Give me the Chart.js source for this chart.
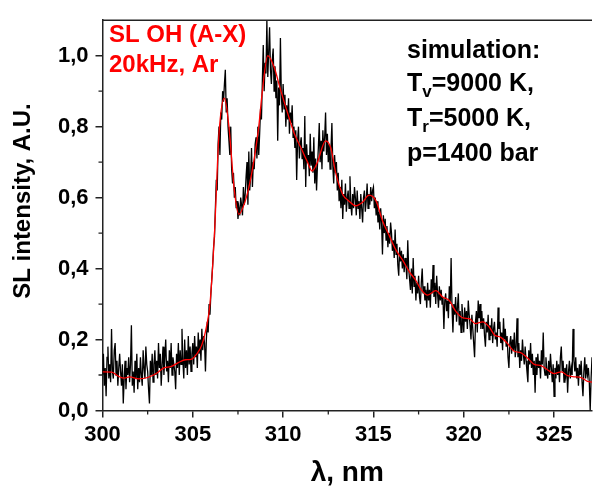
<!DOCTYPE html>
<html>
<head>
<meta charset="utf-8">
<script src="https://cdn.jsdelivr.net/npm/chart.js@4.4.1/dist/chart.umd.min.js"></script>
<style>
  html, body { margin: 0; padding: 0; background: #fff; }
</style>
</head>
<body>
<canvas id="myChart" width="594" height="495"></canvas>
<script>
// measured SL spectrum, one value every 0.05 nm from 300.0 nm (one row per nm)
const measStart = 300.0;
const measStep = 0.05;
const measured = [
    0.10, 0.16, 0.07, 0.12, 0.04, 0.15, 0.18, 0.09, 0.13, 0.08, 0.23, 0.11, 0.09, 0.17, 0.19, 0.10, 0.14, 0.07, 0.12, 0.16, // 300
    0.11, 0.07, 0.13, 0.02, 0.09, 0.14, 0.06, 0.12, 0.10, 0.15, 0.08, 0.13, 0.24, 0.07, 0.11, 0.05, 0.14, 0.09, 0.16, 0.06, // 301
    0.12, 0.08, 0.15, 0.10, 0.07, 0.17, 0.12, 0.09, 0.18, 0.13, 0.11, 0.06, 0.02, 0.14, 0.10, 0.16, 0.08, 0.13, 0.17, 0.10, // 302
    0.14, 0.09, 0.19, 0.12, 0.16, 0.07, 0.13, 0.18, 0.10, 0.15, 0.20, 0.11, 0.14, 0.08, 0.17, 0.12, 0.19, 0.10, 0.15, 0.13, // 303
    0.11, 0.06, 0.16, 0.12, 0.19, 0.10, 0.17, 0.13, 0.23, 0.14, 0.09, 0.20, 0.12, 0.17, 0.10, 0.21, 0.13, 0.18, 0.11, 0.16, // 304
    0.19, 0.13, 0.21, 0.15, 0.18, 0.12, 0.22, 0.16, 0.20, 0.14, 0.23, 0.17, 0.21, 0.19, 0.11, 0.20, 0.25, 0.22, 0.30, 0.27, // 305
    0.33, 0.37, 0.41, 0.46, 0.49, 0.57, 0.65, 0.62, 0.75, 0.80, 0.72, 0.84, 0.82, 0.90, 0.87, 0.92, 0.96, 0.84, 0.88, 0.80, // 306
    0.76, 0.72, 0.80, 0.68, 0.64, 0.67, 0.60, 0.63, 0.57, 0.59, 0.54, 0.57, 0.55, 0.60, 0.58, 0.55, 0.63, 0.58, 0.61, 0.66, // 307
    0.70, 0.58, 0.73, 0.62, 0.66, 0.74, 0.63, 0.70, 0.68, 0.75, 0.77, 0.71, 0.80, 0.72, 0.78, 0.85, 0.82, 0.93, 1.03, 0.90, // 308
    0.98, 0.95, 1.10, 0.94, 1.01, 1.08, 0.96, 0.92, 0.99, 1.02, 0.90, 0.97, 0.88, 0.93, 0.76, 0.91, 0.86, 1.05, 0.89, 0.84, // 309
    0.92, 0.85, 0.89, 0.80, 0.86, 0.82, 0.88, 0.78, 0.84, 0.81, 0.86, 0.77, 0.80, 0.74, 0.79, 0.65, 0.76, 0.80, 0.71, 0.75, // 310
    0.77, 0.71, 0.74, 0.68, 0.83, 0.63, 0.75, 0.70, 0.72, 0.66, 0.78, 0.69, 0.73, 0.67, 0.77, 0.64, 0.71, 0.62, 0.69, 0.74, // 311
    0.81, 0.70, 0.76, 0.68, 0.79, 0.73, 0.77, 0.84, 0.72, 0.78, 0.70, 0.75, 0.68, 0.74, 0.81, 0.69, 0.64, 0.72, 0.67, 0.70, // 312
    0.62, 0.67, 0.59, 0.63, 0.57, 0.65, 0.54, 0.61, 0.58, 0.64, 0.56, 0.60, 0.62, 0.57, 0.66, 0.58, 0.55, 0.61, 0.57, 0.63, // 313
    0.60, 0.55, 0.62, 0.57, 0.59, 0.54, 0.61, 0.57, 0.53, 0.60, 0.62, 0.56, 0.59, 0.64, 0.57, 0.61, 0.58, 0.63, 0.59, 0.62, // 314
    0.63, 0.57, 0.60, 0.55, 0.59, 0.53, 0.56, 0.51, 0.57, 0.53, 0.44, 0.55, 0.50, 0.54, 0.48, 0.52, 0.46, 0.50, 0.47, 0.53, // 315
    0.50, 0.45, 0.48, 0.43, 0.51, 0.44, 0.47, 0.41, 0.38, 0.46, 0.42, 0.45, 0.40, 0.44, 0.39, 0.43, 0.41, 0.37, 0.48, 0.40, // 316
    0.37, 0.34, 0.40, 0.33, 0.43, 0.35, 0.38, 0.31, 0.36, 0.33, 0.38, 0.32, 0.30, 0.36, 0.40, 0.33, 0.35, 0.31, 0.34, 0.29, // 317
    0.36, 0.31, 0.34, 0.29, 0.37, 0.33, 0.41, 0.32, 0.36, 0.30, 0.38, 0.33, 0.29, 0.35, 0.31, 0.34, 0.30, 0.32, 0.23, 0.31, // 318
    0.33, 0.28, 0.31, 0.26, 0.35, 0.30, 0.43, 0.29, 0.22, 0.30, 0.27, 0.32, 0.25, 0.29, 0.33, 0.24, 0.28, 0.22, 0.30, 0.26, // 319
    0.22, 0.29, 0.25, 0.28, 0.23, 0.31, 0.27, 0.24, 0.20, 0.27, 0.23, 0.19, 0.15, 0.25, 0.28, 0.22, 0.31, 0.26, 0.30, 0.23, // 320
    0.28, 0.23, 0.26, 0.21, 0.18, 0.25, 0.22, 0.27, 0.20, 0.24, 0.21, 0.26, 0.19, 0.23, 0.25, 0.20, 0.22, 0.18, 0.29, 0.23, // 321
    0.25, 0.19, 0.22, 0.17, 0.26, 0.20, 0.23, 0.18, 0.21, 0.15, 0.12, 0.19, 0.21, 0.16, 0.20, 0.17, 0.22, 0.15, 0.18, 0.26, // 322
    0.15, 0.19, 0.12, 0.17, 0.14, 0.20, 0.16, 0.13, 0.18, 0.14, 0.11, 0.08, 0.17, 0.13, 0.19, 0.12, 0.16, 0.10, 0.14, 0.05, // 323
    0.15, 0.10, 0.16, 0.12, 0.14, 0.09, 0.17, 0.13, 0.22, 0.12, 0.10, 0.15, 0.11, 0.09, 0.14, 0.10, 0.16, 0.12, 0.08, 0.13, // 324
    0.04, 0.12, 0.09, 0.14, 0.10, 0.13, 0.08, 0.15, 0.18, 0.11, 0.14, 0.08, 0.12, 0.10, 0.13, 0.05, 0.11, 0.14, 0.09, 0.12, // 325
    0.10, 0.23, 0.14, 0.11, 0.15, 0.09, 0.12, 0.07, 0.13, 0.10, 0.14, 0.08, 0.04, 0.11, 0.15, 0.09, 0.13, 0.10, 0.12, 0.08, // 326
    0.00, 0.09, 0.15                                                                                                        // 327
];

// simulated spectrum (red curve)
const simLambda = [
    300.0, 300.5, 300.9, 301.2, 301.5, 302.0, 302.5, 303.0, 303.4, 303.8,
    304.2, 304.6, 304.9, 305.2, 305.5, 305.75, 305.95, 306.2, 306.45, 306.75,
    307.0, 307.3, 307.55, 307.9, 308.15, 308.4, 308.65, 308.85, 309.15, 309.5,
    309.85, 310.25, 310.6, 311.0, 311.35, 311.6, 311.9, 312.35, 312.65, 312.9,
    313.3, 313.65, 314.0, 314.4, 314.75, 315.15, 315.5, 315.9, 316.25, 316.6,
    317.0, 317.3, 317.65, 318.0, 318.45, 318.85, 319.2, 319.55, 319.95, 320.3,
    320.65, 321.05, 321.4, 321.7, 322.05, 322.4, 322.8, 323.15, 323.55, 323.9,
    324.3, 324.65, 325.0, 325.4, 325.75, 326.1, 326.5, 326.85, 327.1
];
const simIntensity = [
    0.109, 0.108, 0.096, 0.091, 0.095, 0.089, 0.093, 0.105, 0.120, 0.124,
    0.135, 0.143, 0.144, 0.158, 0.185, 0.235, 0.30, 0.50, 0.78, 0.88,
    0.80, 0.62, 0.553, 0.59, 0.64, 0.71, 0.80, 0.90, 1.0, 0.968,
    0.905, 0.838, 0.783, 0.739, 0.70, 0.675, 0.70, 0.76, 0.738, 0.672,
    0.609, 0.59, 0.577, 0.587, 0.607, 0.59, 0.535, 0.49, 0.452, 0.425,
    0.39, 0.37, 0.34, 0.325, 0.338, 0.319, 0.31, 0.28, 0.261, 0.259,
    0.245, 0.25, 0.236, 0.213, 0.206, 0.19, 0.167, 0.163, 0.147, 0.13,
    0.126, 0.114, 0.104, 0.109, 0.098, 0.095, 0.093, 0.082, 0.08
];

// minor tick positions
const xMinor = [302.5, 307.5, 312.5, 317.5, 322.5];
const yMinor = [0.1, 0.3, 0.5, 0.7, 0.9];

const measPoints = measured.map((v, i) => ({ x: +(measStart + i * measStep).toFixed(2), y: v }));
const simPoints = simLambda.map((l, i) => ({ x: l, y: simIntensity[i] }));

const axisColor = "#222";
const fam = "'Liberation Sans', Arial, sans-serif";
const tickFont = { family: fam, size: 22, weight: "bold" };

// minor ticks, top frame line, y title and the text blocks
const extras = {
    id: "extras",
    afterDraw(chart) {
        const { ctx, chartArea: a, scales } = chart;
        ctx.save();
        ctx.strokeStyle = axisColor;
        ctx.lineWidth = 1.5;
        ctx.beginPath();
        ctx.moveTo(a.left, a.top);
        ctx.lineTo(a.right, a.top);
        ctx.stroke();

        ctx.lineWidth = 1.3;
        ctx.beginPath();
        xMinor.forEach(v => {
            const px = scales.x.getPixelForValue(v);
            ctx.moveTo(px, a.bottom);
            ctx.lineTo(px, a.bottom + 4);
        });
        yMinor.forEach(v => {
            const py = scales.y.getPixelForValue(v);
            ctx.moveTo(a.left, py);
            ctx.lineTo(a.left - 4, py);
        });
        ctx.stroke();

        // y axis title
        ctx.save();
        ctx.translate(23, 201);
        ctx.rotate(-Math.PI / 2);
        ctx.font = "bold 24px " + fam;
        ctx.fillStyle = "#000";
        ctx.textAlign = "center";
        ctx.textBaseline = "middle";
        ctx.fillText("SL intensity, A.U.", 0, 0);
        ctx.restore();

        ctx.textBaseline = "alphabetic";
        ctx.textAlign = "left";
        ctx.font = "bold 24px " + fam;
        ctx.fillStyle = "#ff0000";
        ctx.fillText("SL OH (A-X)", 109, 42);
        ctx.fillText("20kHz, Ar", 109, 72);

        const big = "bold 25px " + fam;
        ctx.fillStyle = "#000";
        ctx.font = big;
        const x0 = 407;
        ctx.fillText("simulation:", x0, 58);
        const withSub = (sub, rest, yb) => {
            ctx.font = big;
            ctx.fillText("T", x0, yb);
            let xx = x0 + ctx.measureText("T").width;
            ctx.font = "bold 17px " + fam;
            ctx.fillText(sub, xx, yb + 6);
            xx += ctx.measureText(sub).width;
            ctx.font = big;
            ctx.fillText(rest, xx, yb);
        };
        withSub("v", "=9000 K,", 91);
        withSub("r", "=5000 K,", 126);
        ctx.font = big;
        ctx.fillText("p=1400 bar", x0, 161);
        ctx.restore();
    }
};

const data = {
    datasets: [
        {
            label: "simulation",
            data: simPoints,
            borderColor: "#ff0000",
            borderWidth: 1.3,
            pointRadius: 0,
            cubicInterpolationMode: "monotone",
            fill: false,
        },
        {
            label: "SL OH (A-X)",
            data: measPoints,
            borderColor: "#000000",
            borderWidth: 1.3,
            pointRadius: 0,
            tension: 0,
            fill: false,
        },
    ],
};

const config = {
    type: "line",
    data: data,
    options: {
        responsive: false,
        animation: false,
        layout: { padding: { left: 0, right: 2, top: 12, bottom: 0 } },
        plugins: { legend: { display: false }, tooltip: { enabled: false } },
        scales: {
            x: {
                type: "linear",
                min: 300,
                max: 327.1,
                ticks: {
                    stepSize: 5,
                    includeBounds: false,
                    font: tickFont,
                    color: "#000",
                    padding: 4,
                    maxRotation: 0,
                    callback: v => v.toFixed(0),
                },
                grid: { drawOnChartArea: false, tickLength: 7, color: axisColor, lineWidth: 1.5 },
                border: { display: true, color: axisColor, width: 1.5 },
                title: {
                    display: true,
                    text: "λ, nm",
                    color: "#000",
                    font: { family: fam, size: 28, weight: "bold" },
                    padding: { top: 0, bottom: 5 },
                },
                afterFit(s) { s.height = 84.5; },
            },
            y: {
                min: 0,
                max: 1.1,
                ticks: {
                    stepSize: 0.2,
                    includeBounds: false,
                    font: tickFont,
                    color: "#000",
                    padding: 7,
                    callback: v => v.toFixed(1).replace(".", ","),
                },
                grid: { drawOnChartArea: false, tickLength: 7, color: axisColor, lineWidth: 1.5 },
                border: { display: true, color: axisColor, width: 1.5 },
                afterFit(s) { s.width = 102.5; },
            },
        },
    },
    plugins: [extras],
};

const myChart = new Chart(document.getElementById("myChart"), config);
</script>
</body>
</html>
